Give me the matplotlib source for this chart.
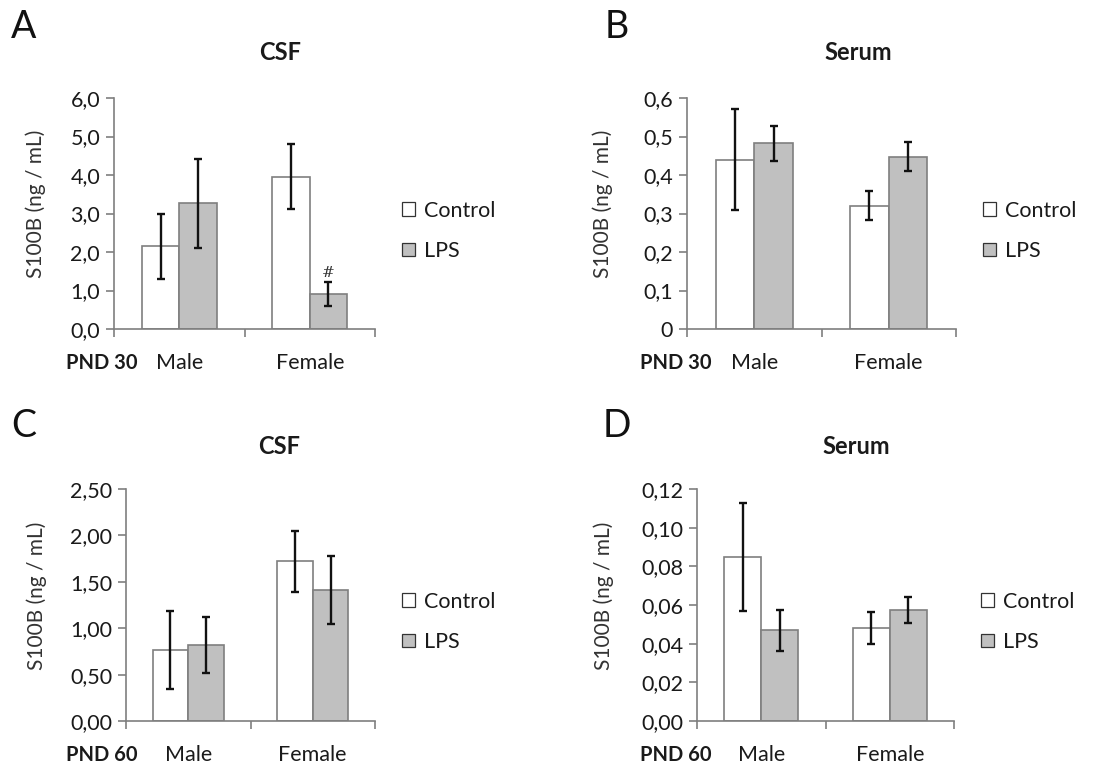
import numpy as np
import matplotlib.pyplot as plt
from matplotlib.patches import Patch

plt.rcParams['font.family'] = ['Lato', 'DejaVu Sans']

W, H = 1102, 767

groups = ["Male", "Female"]
series = ["Control", "LPS"]

# S100B means and errors, ng/mL
csf30_ctrl = [2.15, 3.96]
csf30_ctrl_err = [0.85, 0.84]
csf30_lps = [3.26, 0.91]
csf30_lps_err = [1.16, 0.30]

serum30_ctrl = [0.44, 0.32]
serum30_ctrl_err = [0.131, 0.038]
serum30_lps = [0.482, 0.448]
serum30_lps_err = [0.045, 0.038]

csf60_ctrl = [0.77, 1.72]
csf60_ctrl_err = [0.42, 0.33]
csf60_lps = [0.82, 1.41]
csf60_lps_err = [0.30, 0.37]

serum60_ctrl = [0.085, 0.048]
serum60_ctrl_err = [0.028, 0.0082]
serum60_lps = [0.047, 0.0576]
serum60_lps_err = [0.0106, 0.0067]

csf30_ticks = [0, 1, 2, 3, 4, 5, 6]
csf30_labels = ["0,0", "1,0", "2,0", "3,0", "4,0", "5,0", "6,0"]
serum30_ticks = [0, 0.1, 0.2, 0.3, 0.4, 0.5, 0.6]
serum30_labels = ["0", "0,1", "0,2", "0,3", "0,4", "0,5", "0,6"]
csf60_ticks = [0, 0.5, 1.0, 1.5, 2.0, 2.5]
csf60_labels = ["0,00", "0,50", "1,00", "1,50", "2,00", "2,50"]
serum60_ticks = [0, 0.02, 0.04, 0.06, 0.08, 0.10, 0.12]
serum60_labels = ["0,00", "0,02", "0,04", "0,06", "0,08", "0,10", "0,12"]

EDGE = "#7f7f7f"
LPS_FILL = "#c0c0c0"
TXT = "#1a1a1a"


def px_axes(fig, left, right, top, bottom):
    return fig.add_axes([left / W, 1 - bottom / H, (right - left) / W, (bottom - top) / H])


def panel(fig, box, ctrl, ctrl_err, lps, lps_err, ticks, labels, pnd, pnd_x, ylab_x):
    ax = px_axes(fig, *box)
    x = np.arange(len(groups))
    bw = 0.287
    ax.bar(x - bw / 2, ctrl, bw, color="white", edgecolor=EDGE, linewidth=1.2, zorder=2)
    ax.bar(x + bw / 2, lps, bw, color=LPS_FILL, edgecolor=EDGE, linewidth=1.2, zorder=2)
    ax.errorbar(x - bw / 2, ctrl, yerr=ctrl_err, fmt="none", ecolor="#111111",
                elinewidth=1.7, capsize=3, capthick=1.7, zorder=3)
    ax.errorbar(x + bw / 2, lps, yerr=lps_err, fmt="none", ecolor="#111111",
                elinewidth=1.7, capsize=3, capthick=1.7, zorder=3)

    ax.set_xlim(-0.5, len(groups) - 0.5)
    ax.set_ylim(ticks[0], ticks[-1])
    ax.set_yticks(ticks)
    ax.set_yticklabels(labels)

    # category boundaries get the tick marks, names sit between them
    ax.set_xticks(np.arange(len(groups) + 1) - 0.5)
    ax.set_xticklabels([])
    ax.set_xticks(x, minor=True)
    ax.set_xticklabels(groups, minor=True)
    ax.tick_params(axis="x", which="minor", length=0, pad=17, labelsize=15.5, labelcolor=TXT)
    ax.tick_params(axis="x", which="major", length=6, width=1.2, color=EDGE)
    ax.tick_params(axis="y", length=6, width=1.2, color=EDGE, labelsize=15.5,
                   labelcolor=TXT, pad=4)

    for s in ["top", "right"]:
        ax.spines[s].set_visible(False)
    for s in ["left", "bottom"]:
        ax.spines[s].set_color(EDGE)
        ax.spines[s].set_linewidth(1.2)

    top, bottom = box[2], box[3]
    ylab_y = bottom - 0.54 * (bottom - top)
    fig.text(ylab_x / W, 1 - ylab_y / H, "S100B (ng / mL)", rotation=90, fontsize=15,
             color="#333333", ha="center", va="center")

    fig.text(pnd_x / W, 1 - (bottom + 34) / H, pnd, fontsize=14.5, fontweight="bold",
             color=TXT, ha="center", va="center")
    return ax


fig = plt.figure(figsize=(W / 100, H / 100), dpi=100)

axA = panel(fig, (114, 375, 98, 329), csf30_ctrl, csf30_ctrl_err, csf30_lps, csf30_lps_err,
            csf30_ticks, csf30_labels, "PND 30", 102, 36)
axB = panel(fig, (687, 956, 98, 329), serum30_ctrl, serum30_ctrl_err, serum30_lps,
            serum30_lps_err, serum30_ticks, serum30_labels, "PND 30", 676, 603)
axC = panel(fig, (126, 375, 489, 721), csf60_ctrl, csf60_ctrl_err, csf60_lps, csf60_lps_err,
            csf60_ticks, csf60_labels, "PND 60", 102, 37)
axD = panel(fig, (697, 954, 489, 721), serum60_ctrl, serum60_ctrl_err, serum60_lps,
            serum60_lps_err, serum60_ticks, serum60_labels, "PND 60", 676, 604)

# significance mark over female LPS at PND 30
bw = 0.287
axA.annotate("#", xy=(1 + bw / 2, csf30_lps[1] + csf30_lps_err[1]), xytext=(0, 2),
             textcoords="offset points", ha="center", va="bottom", fontsize=11,
             family="DejaVu Serif", color="#333333")

# panel letters and titles
for letter, lx, ly in [("A", 24, 27), ("B", 617, 27), ("C", 24, 426), ("D", 617, 426)]:
    fig.text(lx / W, 1 - ly / H, letter, fontsize=27, fontweight="normal",
             ha="center", va="center", color="#111111")

for title, tx, ty in [("CSF", 280, 53), ("Serum", 858, 53), ("CSF", 279, 446), ("Serum", 856, 446)]:
    fig.text(tx / W, 1 - ty / H, title, fontsize=17, fontweight="bold",
             ha="center", va="center", color=TXT)

# legends
handles = [Patch(facecolor="white", edgecolor="#333333", linewidth=0.9),
           Patch(facecolor=LPS_FILL, edgecolor="#333333", linewidth=0.9)]
for ax, lx, ly in [(axA, 402, 231), (axB, 983, 231), (axC, 402, 622), (axD, 981, 622)]:
    fig.legend(handles, series, loc="center left", bbox_to_anchor=(lx / W, 1 - ly / H),
               frameon=False, fontsize=15.5, handlelength=0.6, handleheight=0.6,
               handletextpad=0.4, labelspacing=0.95, borderpad=0, borderaxespad=0,
               labelcolor=TXT)

fig.savefig("out.png", dpi=100)
